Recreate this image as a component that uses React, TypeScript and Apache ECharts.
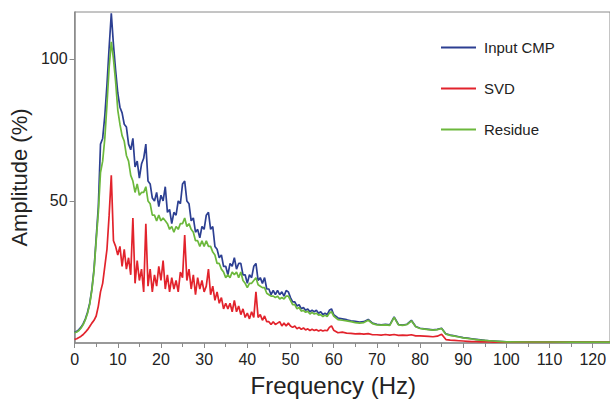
import React, { useEffect, useRef } from "react";
import * as echarts from "echarts";

const freq = [
  0, 0.5, 1, 1.5, 2, 2.5, 3, 3.5, 4, 4.5, 5, 5.5, 6, 6.5, 7, 7.5, 8, 8.5, 9, 9.5,
  10, 10.5, 11, 11.5, 12, 12.5, 13, 13.5, 14, 14.5, 15, 15.5, 16, 16.5, 17, 17.5, 18, 18.5, 19, 19.5,
  20, 20.5, 21, 21.5, 22, 22.5, 23, 23.5, 24, 24.5, 25, 25.5, 26, 26.5, 27, 27.5, 28, 28.5, 29, 29.5,
  30, 30.5, 31, 31.5, 32, 32.5, 33, 33.5, 34, 34.5, 35, 35.5, 36, 36.5, 37, 37.5, 38, 38.5, 39, 39.5,
  40, 40.5, 41, 41.5, 42, 42.5, 43, 43.5, 44, 44.5, 45, 45.5, 46, 46.5, 47, 47.5, 48, 48.5, 49, 49.5,
  50, 50.5, 51, 51.5, 52, 52.5, 53, 53.5, 54, 54.5, 55, 55.5, 56, 56.5, 57, 57.5, 58, 58.5, 59, 59.5,
  60, 61, 62, 63, 64, 65, 66, 67, 68, 69, 70, 71, 72, 73, 74, 75, 76, 77, 78, 79,
  80, 81, 82, 83, 84, 85, 86, 87, 88, 89, 90, 91, 92, 93, 94, 95, 96, 97, 98, 99,
  100, 105, 110, 115, 120, 124,
];

const inputCMP = [
  3.8, 4.1, 4.7, 5.6, 6.8, 8.5, 10.8, 14, 19, 26, 37, 48, 70, 72, 80, 91, 104, 116, 105, 96,
  88, 83, 81, 77, 76, 70, 68, 72, 62, 64, 58, 63, 65, 70, 57, 56, 51, 50, 53, 48,
  52, 50, 55, 46, 47, 42, 46, 45, 50, 49, 56, 57, 50, 49, 43, 44, 39, 40, 37, 41,
  40, 45, 46, 40, 41, 34, 33, 30, 31, 27, 27, 24, 28, 27, 30, 26, 28, 28, 24, 24,
  21, 24, 23, 27, 28, 22, 23, 21, 23, 19, 19, 17, 18.5, 17, 18.5, 17, 18, 16.5, 18.5, 18,
  16, 14.5, 14.5, 13, 13.5, 12, 12.5, 11.5, 12, 11, 11.5, 11, 11.5, 10.5, 11, 10, 10.5, 10, 11.5, 12,
  10, 8.8, 8.5, 8.2, 7.8, 7.6, 7.4, 7.5, 8.3, 7.0, 6.6, 6.4, 6.6, 6.4, 9.2, 6.5, 6.3, 6.6, 8.0, 5.8,
  5.2, 5.0, 4.8, 4.6, 4.8, 5.2, 3.2, 2.8, 2.5, 2.2, 1.9, 1.7, 1.5, 1.3, 1.1, 0.9, 0.8, 0.7, 0.6, 0.5,
  0.4, 0.35, 0.3, 0.3, 0.3, 0.3,
];

const svd = [
  1.3, 1.5, 1.9, 2.4, 3.0, 3.8, 4.7, 5.8, 7, 8, 9.5, 13, 18, 21, 27, 33, 45, 59, 36, 34,
  31, 34, 27, 33, 26, 30, 24, 44, 21, 29, 22, 26, 18, 42, 20, 26, 18, 24, 20, 27,
  22, 29, 19, 24, 18, 23, 19, 22, 18, 25, 23, 38, 22, 26, 19, 24, 17, 23, 19, 22,
  18, 20, 26, 17, 20, 15, 18, 14, 16, 12, 14, 12, 14, 11, 15, 11, 13, 10, 12, 9,
  10.5, 8.5, 11, 9, 18, 9, 10, 8, 9.5, 7.5, 7.5, 6.5, 7.5, 6.5, 7, 7.5, 6, 7, 6, 7,
  6, 5.5, 6, 5, 5.5, 4.8, 5.3, 4.6, 5, 4.4, 4.8, 4.4, 4.7, 4.2, 4.6, 4.2, 4.5, 4.3, 5.5, 6,
  4.5, 3.6, 3.8, 3.5, 3.4, 3.2, 3.3, 3.1, 3.3, 2.9, 2.9, 2.8, 3.0, 2.8, 3.0, 2.7, 2.8, 2.7, 2.9, 2.5,
  2.5, 2.4, 2.3, 2.2, 2.4, 3.1, 1.2, 1.0, 0.9, 0.8, 0.7, 0.6, 0.5, 0.5, 0.4, 0.4, 0.35, 0.3, 0.3, 0.3,
  0.3, 0.3, 0.3, 0.3, 0.3, 0.3,
];

const residue = [
  3.6, 3.9, 4.4, 5.3, 6.5, 8.2, 10.5, 13.6, 18.6, 25.5, 36, 46, 60, 64, 72, 84, 97, 106, 100, 92,
  82, 77, 73, 71, 66, 64, 59, 57, 53, 56, 52, 53, 53, 55, 50, 49, 45, 45, 43, 45,
  43, 44, 43, 42, 40, 41, 39, 41, 40, 42, 42, 44, 41, 42, 40, 39, 36, 36, 34, 36,
  34, 36, 34, 34, 32, 31, 28, 28, 26, 25, 23, 24, 23, 25, 24, 25, 23, 25, 22, 21,
  19.5, 21, 21, 22, 23, 20.5, 20, 19.5, 19.5, 17.5, 17, 16.5, 16.5, 16, 16.5, 15.5, 16, 15.5, 16.5, 16.5,
  15, 13.5, 13.5, 12, 12.5, 11.2, 11.5, 10.8, 11.2, 10.2, 10.8, 10.2, 10.5, 9.8, 10, 9.3, 9.8, 9.3, 10.5, 11,
  9.5, 8.2, 8, 7.8, 7.5, 7.2, 7.0, 7.2, 8.0, 6.8, 6.4, 6.3, 6.4, 6.2, 9.0, 6.4, 6.2, 6.5, 7.8, 5.7,
  5.1, 4.9, 4.7, 4.5, 4.7, 5.1, 3.1, 2.7, 2.4, 2.1, 1.8, 1.6, 1.4, 1.2, 1.0, 0.9, 0.8, 0.7, 0.6, 0.5,
  0.4, 0.35, 0.35, 0.3, 0.3, 0.3,
];

const seriesNames = ["Input CMP", "SVD", "Residue"];
const seriesColors = ["#2c3f92", "#e2232c", "#6cb83c"];
const xTickInterval = 10;
const yTickInterval = 50;

export default function App() {
  const ref = useRef<HTMLDivElement>(null);
  useEffect(() => {
    if (!ref.current) return;
    const chart = echarts.init(ref.current, undefined, { renderer: "svg" });
    const values = [inputCMP, svd, residue];
    const font = "'Liberation Sans', Arial, Helvetica, sans-serif";
    chart.setOption({
      animation: false,
      backgroundColor: "#ffffff",
      textStyle: { fontFamily: font },
      grid: {
        left: 72,
        top: 12,
        right: -2,
        bottom: 51,
        show: true,
        borderColor: "#8a8a8a",
        borderWidth: 1,
      },
      legend: {
        orient: "vertical",
        left: 441,
        top: 40,
        padding: 0,
        itemGap: 26,
        itemWidth: 35,
        itemHeight: 2,
        icon: "rect",
        textStyle: { fontSize: 15, color: "#222", fontFamily: font, padding: [0, 0, 0, 3] },
        data: seriesNames,
      },
      xAxis: {
        type: "value",
        min: 0,
        max: 124,
        interval: xTickInterval,
        name: "Frequency (Hz)",
        nameLocation: "middle",
        nameGap: 30,
        nameTextStyle: { fontSize: 24, color: "#222", fontFamily: font, padding: [0, 18, 0, 0] },
        axisLine: { lineStyle: { color: "#8a8a8a", width: 1.5 } },
        axisTick: { show: true, length: 5, lineStyle: { color: "#8a8a8a" } },
        minorTick: { show: true, splitNumber: 2, length: 4, lineStyle: { color: "#8a8a8a" } },
        axisLabel: { fontSize: 16, color: "#222", margin: 8, showMaxLabel: false },
        splitLine: { show: false },
      },
      yAxis: {
        type: "value",
        min: 0,
        max: 116.5,
        interval: yTickInterval,
        name: "Amplitude (%)",
        nameLocation: "middle",
        nameGap: 35,
        nameTextStyle: { fontSize: 22, color: "#222", fontFamily: font },
        axisLine: { show: true, lineStyle: { color: "#8a8a8a", width: 1.5 } },
        axisTick: { show: true, length: 5, lineStyle: { color: "#8a8a8a" } },
        axisLabel: { fontSize: 16, color: "#222", margin: 7, showMinLabel: false, showMaxLabel: false },
        splitLine: { show: false },
      },
      series: seriesNames.map((name, i) => ({
        name,
        type: "line",
        showSymbol: false,
        symbol: "none",
        color: seriesColors[i],
        lineStyle: { width: 1.7, color: seriesColors[i] },
        data: freq.map((f, j) => [f, values[i][j]]),
        z: i === 2 ? 3 : 2,
      })),
    });
    return () => chart.dispose();
  }, []);
  return (
    <div
      ref={ref}
      style={{ position: "fixed", left: 0, top: 0, width: 610, height: 402 }}
    />
  );
}
